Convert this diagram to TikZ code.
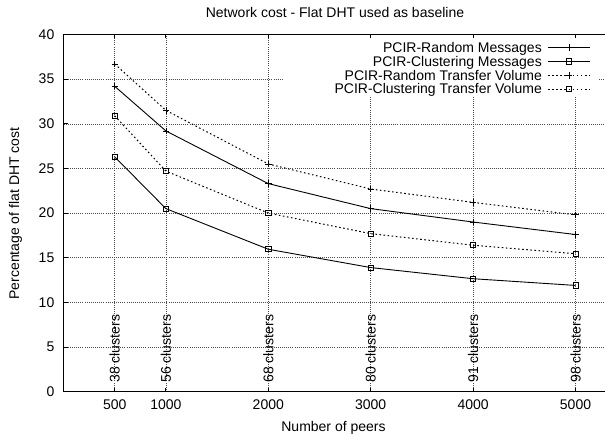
\documentclass[tikz,border=0pt]{standalone}
\usepackage{fontspec}
\setmainfont{Liberation Sans}
\usetikzlibrary{plotmarks}

\tikzset{
  gridline/.style={black!70, line width=0.5bp, dash pattern=on 0.7bp off 1.4bp},
  frameline/.style={black, line width=0.9bp},
  msgcurve/.style={black, line width=0.9bp},
  volcurve/.style={black, line width=1bp, dash pattern=on 1.6bp off 2.5bp},
  pmark/.style={mark=+, mark size=3.2bp, mark options={solid, line width=0.8bp}},
  smark/.style={mark=square, mark size=2.6bp, mark options={solid, line width=0.8bp}},
  lbl/.style={inner sep=0pt},
}

\begin{document}
\begin{tikzpicture}[x=1bp, y=1bp, font=\fontsize{14bp}{14bp}\selectfont]
  \useasboundingbox (0,0) rectangle (605,436);
  \clip (0,0) rectangle (605,436);

  \node[lbl, anchor=base] (title) at (335,418.7) {Network cost - Flat DHT used as baseline};
  \node[lbl, anchor=base] (xlabel) at (333.5,4.3) {Number of peers};
  \node[lbl, rotate=90, anchor=base] (ylabel) at (19,222.5) {Percentage of flat DHT cost};

  \begin{scope}[shift={(63.5,44.3)}, x=0.1024bp, y=8.93bp]
    % grid
    \foreach \yv in {5,10,...,35}
      \draw[gridline] (0,\yv) -- (5400,\yv);
    \foreach \xv in {500,1000,2000,3000,4000,5000}
      \draw[gridline] (\xv,0) -- (\xv,40);
    % key area
    \fill[white] (2140,33) rectangle (5220,40);

    % border and ticks
    \draw[frameline] (5400,0) -- (0,0) -- (0,40) -- (5400,40);
    \foreach \yv in {0,5,...,40} {
      \draw[frameline] (0,\yv) -- ++(4bp,0);
      \node[lbl, anchor=east] at ([xshift=-9bp]0,\yv) {\yv};
    }
    \foreach \xv in {500,1000,2000,3000,4000,5000} {
      \draw[frameline] (\xv,0) -- ++(0,4bp);
      \draw[frameline] (\xv,40) -- ++(0,-4bp);
      \node[lbl, anchor=base] at ([yshift=-18.3bp]\xv,0) {\xv};
    }

    % cluster counts
    \foreach \xv/\cnt in {500/38, 1000/56, 2000/68, 3000/80, 4000/91, 5000/98}
      \node[lbl, rotate=90, anchor=west] at (\xv,1) {\cnt\ clusters};

    % curves
    \draw[msgcurve, pmark] plot coordinates {(500,34.2) (1000,29.2) (2000,23.3) (3000,20.5) (4000,19.0) (5000,17.6)};
    \draw[msgcurve, smark] plot coordinates {(500,26.3) (1000,20.5) (2000,15.95) (3000,13.9) (4000,12.65) (5000,11.9)};
    \draw[volcurve, pmark] plot coordinates {(500,36.7) (1000,31.5) (2000,25.5) (3000,22.7) (4000,21.2) (5000,19.8)};
    \draw[volcurve, smark] plot coordinates {(500,30.9) (1000,24.7) (2000,20.0) (3000,17.7) (4000,16.4) (5000,15.45)};
  \end{scope}

  % key
  \node[lbl, anchor=base east] (key1) at (542,383.7) {PCIR-Random Messages};
  \node[lbl, anchor=base east] (key2) at (542,369.9) {PCIR-Clustering Messages};
  \node[lbl, anchor=base east] (key3) at (542,355.9) {PCIR-Random Transfer Volume};
  \node[lbl, anchor=base east] (key4) at (542,342.1) {PCIR-Clustering Transfer Volume};
  \draw[msgcurve] (548,388.3) -- (590,388.3);
  \draw[msgcurve, pmark] plot[only marks] coordinates {(569,388.3)};
  \draw[msgcurve] (548,374.5) -- (590,374.5);
  \draw[msgcurve, smark] plot[only marks] coordinates {(569,374.5)};
  \draw[volcurve] (548,360.5) -- (590,360.5);
  \draw[volcurve, pmark] plot[only marks] coordinates {(569,360.5)};
  \draw[volcurve] (548,346.7) -- (590,346.7);
  \draw[volcurve, smark] plot[only marks] coordinates {(569,346.7)};
\end{tikzpicture}
\end{document}
